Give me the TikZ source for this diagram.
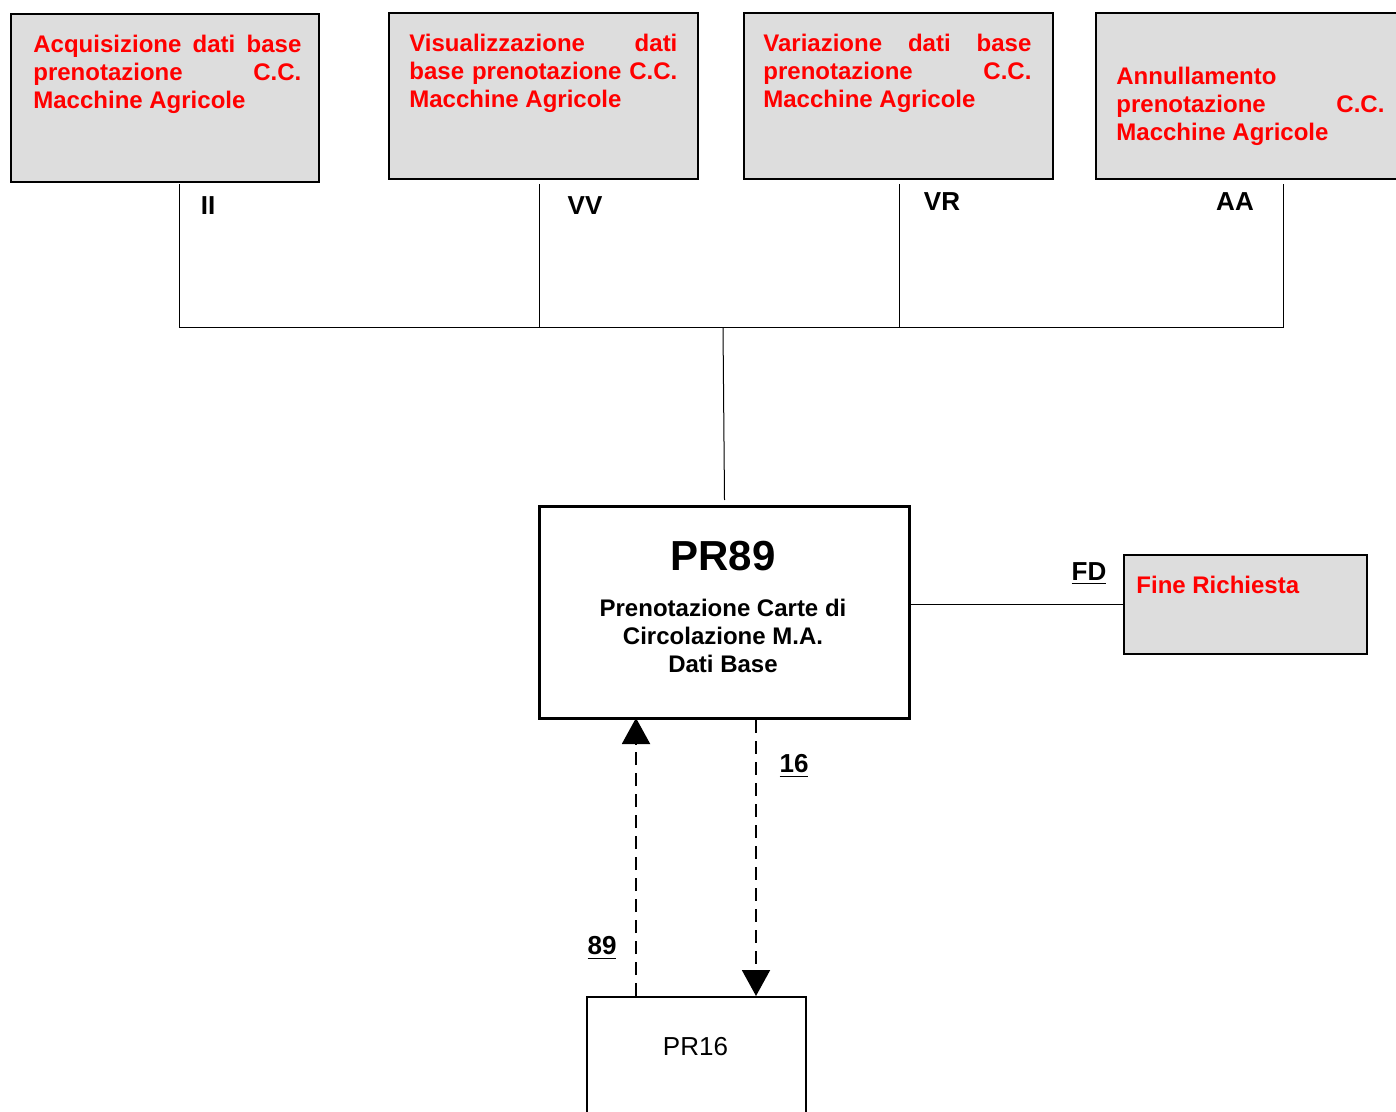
\documentclass[tikz,border=0pt]{standalone}
\usepackage{fontspec}
\setmainfont{Liberation Sans}
\usetikzlibrary{arrows.meta,positioning,calc}
\setlength{\parindent}{0pt}
\hbadness=10000
\tolerance=10000
\definecolor{boxgray}{RGB}{221,221,221}
\tikzstyle{funbox}=[draw,line width=1pt,fill=boxgray,anchor=north west,inner sep=0pt]
\tikzstyle{funtext}=[anchor=north west,inner sep=0pt,text width=134pt,align=justify,text=red,font=\fontsize{12}{14}\selectfont\bfseries]
\tikzstyle{code}=[font=\fontsize{13}{15}\selectfont\bfseries,inner sep=0pt]
\tikzstyle{bus}=[draw,line width=0.5pt]
\tikzstyle{flow}=[draw,line width=1pt,dash pattern=on 6.5pt off 4pt,-{Triangle[length=13pt,width=14pt]}]

\begin{document}
\begin{tikzpicture}[x=0.5pt,y=-0.5pt]
\useasboundingbox (0,0) rectangle (1396,1112);

    % the four functions on top
    \node[funbox,minimum width=154pt,minimum height=84pt] (acq) at (10,13) {};
    \node[funbox,minimum width=154.5pt,minimum height=83pt] (vis) at (388,12) {};
    \node[funbox,minimum width=154.5pt,minimum height=83pt] (var) at (743,12) {};
    \node[funbox,minimum width=155pt,minimum height=83pt] (ann) at (1095,12) {};

    \node[funtext] (acqtext) at ([shift={(11.5pt,-11pt)}]acq.north west) {Acquisizione dati base\linebreak prenotazione C.C.\linebreak Macchine Agricole};
    \node[funtext] (vistext) at ([shift={(10.5pt,-10.75pt)}]vis.north west) {Visualizzazione dati\linebreak base prenotazione C.C.\linebreak Macchine Agricole};
    \node[funtext] (vartext) at ([shift={(10pt,-10.75pt)}]var.north west) {Variazione dati base\linebreak prenotazione C.C.\linebreak Macchine Agricole};
    \node[funtext] (anntext) at ([shift={(10.5pt,-27.5pt)}]ann.north west) {Annullamento\newline prenotazione C.C.\linebreak Macchine Agricole};

    % main program and the others
    \node[draw,line width=1.5pt,anchor=north west,inner sep=0pt,minimum width=185pt,minimum height=106pt] (pr89) at (538,505) {};
    \node[font=\fontsize{21}{25}\selectfont\bfseries,inner sep=0pt] (pr89title) at (723,556) {PR89};
    \node[font=\fontsize{12}{14}\selectfont\bfseries,align=center,inner sep=0pt] (pr89sub) at (723,636) {Prenotazione Carte di\\Circolazione M.A.\\Dati Base};

    \node[funbox,minimum width=121.5pt,minimum height=49.5pt] (fine) at (1123,554) {};
    \node[anchor=west,inner sep=0pt,text=red,font=\fontsize{12}{14}\selectfont\bfseries] (finetext) at (1136,585) {Fine Richiesta};

    \node[draw,line width=1pt,fill=white,anchor=north west,inner sep=0pt,minimum width=109.5pt,minimum height=65pt] (pr16) at (586,996) {};
    \node[font=\fontsize{13}{15}\selectfont,inner sep=0pt] (pr16text) at (695.5,1047) {PR16};

    % labels
    \node[code] (lII) at (208,206) {II};
    \node[code] (lVV) at (585,206) {VV};
    \node[code] (lVR) at (942,202) {VR};
    \node[code] (lAA) at (1235,202) {AA};
    \node[code] (lFD) at (1089,574) {\underline{FD}};
    \node[code] (l16) at (794,766) {\underline{16}};
    \node[code] (l89) at (602,948) {\underline{89}};

    % bus
    \coordinate (tII) at (179,184);  \coordinate (jII) at (179,328);
    \coordinate (tVV) at (539,184);  \coordinate (jVV) at (539,328);
    \coordinate (tVR) at (899,184);  \coordinate (jVR) at (899,328);
    \coordinate (tAA) at (1283,184); \coordinate (jAA) at (1283,328);
    \coordinate (jmid) at (723,328);
    \draw[bus] (tII) -- (jII) -- (jAA) -- (tAA);
    \draw[bus] (tVV) -- (jVV);
    \draw[bus] (tVR) -- (jVR);
    \draw[bus] (jmid) -- ([yshift=2.5pt]pr89.north);
    \draw[bus] (pr89.east |- fine.west) -- (fine.west);

    % calls between PR89 and PR16
    \coordinate (f89) at (636,0);
    \coordinate (f16) at (756,0);
    \path[flow] (pr16.north -| f89) -- ([yshift=1pt]pr89.south -| f89);
    \path[flow] (pr89.south -| f16) -- (pr16.north -| f16);

\end{tikzpicture}
\end{document}
